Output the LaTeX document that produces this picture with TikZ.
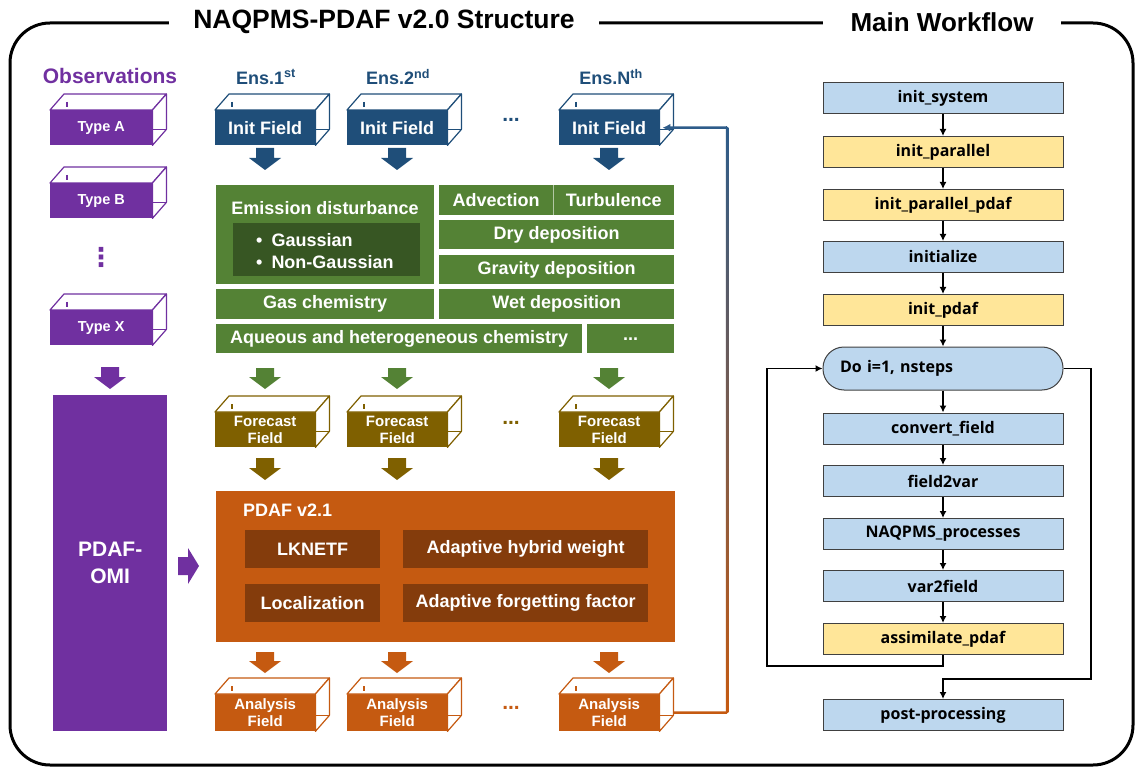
\documentclass[tikz,border=0pt]{standalone}
\usepackage{fontspec}
\setmainfont{Liberation Sans}
\newfontfamily\wffont{Open Sans}
\newfontfamily\djvfont{DejaVu Sans}
\usetikzlibrary{arrows.meta}
\definecolor{cpurple}{HTML}{7030A0}
\definecolor{cblue}{HTML}{1F4E79}
\definecolor{clinkblue}{HTML}{2E5C8A}
\definecolor{cgreen}{HTML}{548235}
\definecolor{cdkgreen}{HTML}{375623}
\definecolor{colive}{HTML}{7F6000}
\definecolor{corange}{HTML}{C55A11}
\definecolor{cbrown}{HTML}{843C0C}
\definecolor{wfblue}{HTML}{BDD7EE}
\definecolor{wfyellow}{HTML}{FFE699}
\definecolor{wfline}{HTML}{404040}
% 3D parts of a field box (name, colour)
\newcommand\cubeparts[2]{%
  \draw[#2, line width=1.2pt, fill=white, line join=round]
    (#1.north west) -- ++(14,-16) -- ([shift={(14,-16)}]#1.north east) -- (#1.north east) -- cycle;
  \draw[#2, line width=1.2pt, fill=white, line join=round]
    (#1.north east) -- ++(14,-16) -- ([shift={(14,-16)}]#1.south east) -- (#1.south east) -- cycle;
  \draw[#2, line width=1.2pt] ([shift={(0,-16)}]#1.south east) -- ++(14,0);
  \draw[#2, line width=1.2pt] ([shift={(17,-8)}]#1.north west) -- ++(0,5);
}
% block arrow down: x, top, tip, colour
\newcommand\blkdown[4]{%
  \fill[#4] (#1-9,#2) -- (#1+9,#2) -- (#1+9,#3-12) -- (#1+16,#3-12) -- (#1,#3)
    -- (#1-16,#3-12) -- (#1-9,#3-12) -- cycle;}
\begin{document}
\begin{tikzpicture}[x=1pt,y=-1pt,
  field/.style={minimum width=100pt, minimum height=35pt, inner sep=0pt, anchor=north west,
     text=white, align=center},
  fbig/.style={font=\bfseries\fontsize{18}{21}\selectfont},
  fsmall/.style={font=\bfseries\fontsize{14.5}{17}\selectfont},
  ftwo/.style={font=\bfseries\fontsize{15}{17.5}\selectfont},
  gbox/.style={fill=cgreen, text=white, inner sep=0pt, anchor=north west,
     font=\bfseries\fontsize{18}{21}\selectfont},
  bbox/.style={fill=cbrown, text=white, inner sep=0pt, anchor=north west,
     font=\bfseries\fontsize{18}{21}\selectfont},
  wf/.style={draw=wfline, line width=1pt, minimum width=240pt, minimum height=31pt, inner sep=0pt,
     font=\wffont\bfseries\fontsize{16}{18}\selectfont},
  flowarrow/.style={line width=1.6pt, -{Latex[length=7pt,width=7pt]}},
  dots/.style={anchor=base, font=\bfseries\fontsize{21}{21}\selectfont},
  title/.style={fill=white, inner ysep=2pt, font=\bfseries\fontsize{26.5}{30}\selectfont}
]
\useasboundingbox (0,0) rectangle (1135,767);
% frame
\draw[line width=3pt, rounded corners=40pt] (10,23) rectangle (1133,765);
\node[title, inner xsep=24pt] (t1) at (384,22) {NAQPMS-PDAF v2.0 Structure};
\node[title, inner xsep=28pt, font=\bfseries\fontsize{26}{30}\selectfont] (t2) at (942,22) {Main Workflow};

% ---------- Observations ----------
\node[text=cpurple, font=\bfseries\fontsize{21}{24}\selectfont] (obs) at (110,76) {Observations};
\node[field, fsmall, fill=cpurple, minimum width=102pt] (tA) at (50,110) {Type A};
\cubeparts{tA}{cpurple}
\node[field, fsmall, fill=cpurple, minimum width=102pt] (tB) at (50,183) {Type B};
\cubeparts{tB}{cpurple}
\node[text=cpurple, font=\djvfont\bfseries\fontsize{26}{26}\selectfont] (vd) at (101,257) {⋮};
\node[field, fsmall, fill=cpurple, minimum width=102pt] (tX) at (50,310) {Type X};
\cubeparts{tX}{cpurple}
\blkdown{110}{367}{389}{cpurple}
\node[fill=cpurple, text=white, inner sep=0pt, anchor=north west, minimum width=114pt,
  minimum height=336pt, align=center, font=\bfseries\fontsize{21}{27}\selectfont] (omi) at (53,395) {PDAF-\\OMI};
\fill[cpurple] (178,557) -- (188,557) -- (188,548) -- (199,566) -- (188,584) -- (188,575) -- (178,575) -- cycle;

% ---------- Ensemble labels ----------
\node[text=cblue, fbig] (e1) at (266,77) {Ens.1\textsuperscript{st}};
\node[text=cblue, fbig] (e2) at (398,77) {Ens.2\textsuperscript{nd}};
\node[text=cblue, fbig] (eN) at (611,77) {Ens.N\textsuperscript{th}};

% ---------- Init fields ----------
\node[field, fbig, fill=cblue] (init1) at (215,110) {Init Field};
\cubeparts{init1}{cblue}
\node[field, fbig, fill=cblue] (init2) at (347,110) {Init Field};
\cubeparts{init2}{cblue}
\node[field, fbig, fill=cblue] (initN) at (559,110) {Init Field};
\cubeparts{initN}{cblue}
\node[dots, text=cblue] (d1) at (511,122) {...};
\blkdown{265}{148}{170}{cblue}
\blkdown{397}{148}{170}{cblue}
\blkdown{609}{148}{170}{cblue}

% ---------- Model processes ----------
\node[gbox, minimum width=218pt, minimum height=99pt] (emi) at (216,185) {};
\node[text=white, font=\bfseries\fontsize{18}{21}\selectfont] (emit) at (325,208) {Emission disturbance};
\node[fill=cdkgreen, inner sep=0pt, anchor=north west, minimum width=187pt, minimum height=53pt] (emin) at (233,223) {};
\node[text=white, anchor=west, align=left, inner sep=0pt, font=\bfseries\fontsize{18}{22}\selectfont] (emil) at (256,251)
  {\textbullet\hspace{9pt}Gaussian\\\textbullet\hspace{9pt}Non-Gaussian};
\node[gbox, minimum width=114pt, minimum height=30pt] (adv) at (439,185) {Advection};
\node[gbox, minimum width=121pt, minimum height=30pt] (turb) at (553,185) {Turbulence};
\draw[white!55!cgreen, line width=0.8pt] (turb.north west) -- (turb.south west);
\node[gbox, minimum width=235pt, minimum height=29pt] (dry) at (439,220) {Dry deposition};
\node[gbox, minimum width=235pt, minimum height=29pt] (grav) at (439,255) {Gravity deposition};
\node[gbox, minimum width=218pt, minimum height=30pt] (gas) at (216,289) {Gas chemistry};
\node[gbox, minimum width=235pt, minimum height=30pt] (wet) at (439,289) {Wet deposition};
\node[gbox, minimum width=366pt, minimum height=29pt] (aq) at (216,324) {Aqueous and heterogeneous chemistry};
\node[gbox, minimum width=87pt, minimum height=29pt] (more) at (587,324) {...};
\blkdown{265}{368}{389}{cgreen}
\blkdown{397}{368}{389}{cgreen}
\blkdown{609}{368}{389}{cgreen}

% ---------- Forecast fields ----------
\node[field, ftwo, fill=colive] (fc1) at (215,412) {Forecast\\Field};
\cubeparts{fc1}{colive}
\node[field, ftwo, fill=colive] (fc2) at (347,412) {Forecast\\Field};
\cubeparts{fc2}{colive}
\node[field, ftwo, fill=colive] (fcN) at (559,412) {Forecast\\Field};
\cubeparts{fcN}{colive}
\node[dots, text=colive] (d2) at (511,424) {...};
\blkdown{265}{458}{480}{colive}
\blkdown{397}{458}{480}{colive}
\blkdown{609}{458}{480}{colive}

% ---------- PDAF ----------
\node[fill=corange, inner sep=0pt, anchor=north west, minimum width=459pt, minimum height=151pt] (pdaf) at (216,491) {};
\node[text=white, anchor=west, inner sep=0pt, font=\bfseries\fontsize{18}{21}\selectfont] (pdaft) at (243,510) {PDAF v2.1};
\node[bbox, minimum width=135pt, minimum height=38pt] (lk) at (245,530) {LKNETF};
\node[bbox, minimum width=245pt, minimum height=38pt] (ahw) at (403,530) {Adaptive hybrid weight};
\node[bbox, minimum width=135pt, minimum height=38pt] (loc) at (245,584) {Localization};
\node[bbox, minimum width=245pt, minimum height=38pt] (aff) at (403,584) {Adaptive forgetting factor};
\blkdown{265}{652}{673}{corange}
\blkdown{397}{652}{673}{corange}
\blkdown{609}{652}{673}{corange}

% ---------- Analysis fields ----------
\node[field, ftwo, fill=corange, minimum height=37pt] (an1) at (215,694) {Analysis\\Field};
\cubeparts{an1}{corange}
\node[field, ftwo, fill=corange, minimum height=37pt] (an2) at (347,694) {Analysis\\Field};
\cubeparts{an2}{corange}
\node[field, ftwo, fill=corange, minimum height=37pt] (anN) at (559,694) {Analysis\\Field};
\cubeparts{anN}{corange}
\node[dots, text=corange] (d3) at (511,709) {...};

% ---------- feedback line ----------
\coordinate (fbA) at ([xshift=14pt]anN.east);
\coordinate (fbB) at (727,712.5);
\coordinate (fbC) at (727,127.5);
\coordinate (fbD) at ([xshift=3pt]initN.east);
\shade[top color=clinkblue, middle color=clinkblue!20!white, bottom color=corange]
  (725.75,127.5) rectangle (728.25,712.5);
\draw[corange, line width=2.5pt] (fbA) -- (fbB);
\draw[clinkblue, line width=2.5pt, -{Latex[length=8pt,width=8pt]}] (fbC) -- (fbD);

% ---------- Main workflow ----------
\node[wf, fill=wfblue] (w1) at (943,98) {init\_system};
\node[wf, fill=wfyellow] (w2) at (943,152) {init\_parallel};
\node[wf, fill=wfyellow] (w3) at (943,205) {init\_parallel\_pdaf};
\node[wf, fill=wfblue] (w4) at (943,257) {initialize};
\node[wf, fill=wfyellow] (w5) at (943,310) {init\_pdaf};
\node[wf, fill=wfblue, minimum height=43pt, rounded corners=21pt, text width=206pt, align=left,
  inner xsep=17pt] (wdo) at (943,368.5) {Do i=1, nsteps};
\node[wf, fill=wfblue] (w6) at (943,428.5) {convert\_field};
\node[wf, fill=wfblue] (w7) at (943,481) {field2var};
\node[wf, fill=wfblue] (w8) at (943,534) {NAQPMS\_processes};
\node[wf, fill=wfblue] (w9) at (943,586) {var2field};
\node[wf, fill=wfyellow] (w10) at (943,639) {assimilate\_pdaf};
\node[wf, fill=wfblue] (w11) at (943,715) {post-processing};
\draw[flowarrow] (w1) -- (w2);
\draw[flowarrow] (w2) -- (w3);
\draw[flowarrow] (w3) -- (w4);
\draw[flowarrow] (w4) -- (w5);
\draw[flowarrow] (w5) -- (wdo);
\draw[flowarrow] (wdo) -- (w6);
\draw[flowarrow] (w6) -- (w7);
\draw[flowarrow] (w7) -- (w8);
\draw[flowarrow] (w8) -- (w9);
\draw[flowarrow] (w9) -- (w10);
\coordinate (lp1) at (943,666);
\coordinate (lp2) at (767,666);
\coordinate (lp3) at (767,368.5);
\draw[flowarrow] (w10.south) -- (lp1) -- (lp2) -- (lp3) -- (wdo.west);
\coordinate (rp1) at (1091,368.5);
\coordinate (rp2) at (1091,679);
\coordinate (rp3) at (943,679);
\draw[flowarrow] (wdo.east) -- (rp1) -- (rp2) -- (rp3) -- (w11.north);
\end{tikzpicture}
\end{document}
